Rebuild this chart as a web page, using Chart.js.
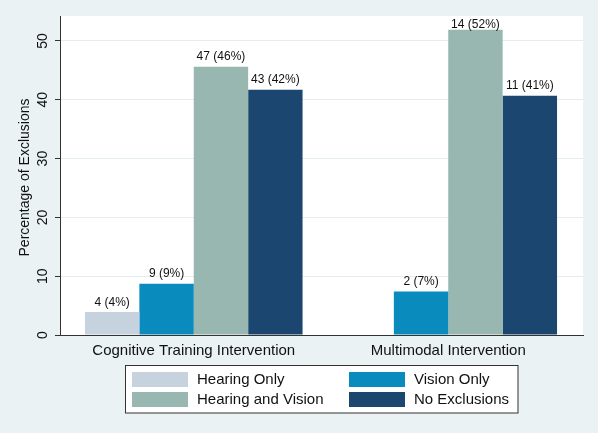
<!DOCTYPE html>
<html>
<head>
<meta charset="utf-8">
<script src="https://cdn.jsdelivr.net/npm/chart.js@4/dist/chart.umd.min.js"></script>
<style>
  html, body { margin: 0; padding: 0; background: #ffffff; }
  canvas { display: block; }
</style>
</head>
<body>
<canvas id="c" width="600" height="435"></canvas>
<script>
const categories = ['Cognitive Training Intervention', 'Multimodal Intervention'];
const seriesNames = ['Hearing Only', 'Vision Only', 'Hearing and Vision', 'No Exclusions'];
const hearingOnlyPct = [3.9, null];
const visionOnlyPct = [8.7, 7.4];
const hearingVisionPct = [45.6, 51.9];
const noExclusionsPct = [41.7, 40.7];
const hearingOnlyN = [4, null];
const visionOnlyN = [9, 2];
const hearingVisionN = [47, 14];
const noExclusionsN = [43, 11];
const yTicks = [0, 10, 20, 30, 40, 50];
const yTitle = 'Percentage of Exclusions';

const colors = ['#C6D3DF', '#0A8BBD', '#98B7B0', '#1B4670'];
const pctSeries = [hearingOnlyPct, visionOnlyPct, hearingVisionPct, noExclusionsPct];
const nSeries = [hearingOnlyN, visionOnlyN, hearingVisionN, noExclusionsN];

const FONT = '"Liberation Sans", Arial, Helvetica, sans-serif';

const datasets = seriesNames.map((name, s) => ({
  label: name,
  data: categories.map((c, i) => ({ x: i, y: pctSeries[s][i] })),
  counts: nSeries[s],
  backgroundColor: colors[s],
  borderWidth: 0,
  categoryPercentage: 0.855,
  barPercentage: 1.0
}));

const decorPlugin = {
  id: 'decor',
  beforeDraw(chart) {
    const ctx = chart.ctx;
    const a = chart.chartArea;
    ctx.save();
    ctx.fillStyle = '#EAF2F3';
    ctx.fillRect(0, 0, 598, 433);
    ctx.fillStyle = '#ffffff';
    ctx.fillRect(a.left, a.top, a.right - a.left, a.bottom - a.top);
    ctx.restore();
  },
  afterDraw(chart) {
    const ctx = chart.ctx;
    const a = chart.chartArea;
    const ys = chart.scales.y;
    const xs = chart.scales.x;
    ctx.save();
    ctx.fillStyle = '#111';
    // y tick labels (rotated)
    ctx.font = '14px ' + FONT;
    ctx.textAlign = 'center';
    ctx.textBaseline = 'middle';
    yTicks.forEach(v => {
      const py = ys.getPixelForValue(v);
      ctx.save();
      ctx.translate(43, py);
      ctx.rotate(-Math.PI / 2);
      ctx.fillText(String(v), 0, 0);
      ctx.restore();
    });
    // y title
    ctx.save();
    ctx.translate(25, (a.top + a.bottom) / 2 + 2);
    ctx.rotate(-Math.PI / 2);
    ctx.fillText(yTitle, 0, 0);
    ctx.restore();
    // x category labels
    ctx.font = '15px ' + FONT;
    categories.forEach((c, i) => {
      ctx.fillText(c, xs.getPixelForValue(i), 351);
    });
    // value labels
    ctx.font = '12px ' + FONT;
    ctx.textBaseline = 'alphabetic';
    chart.data.datasets.forEach((ds, s) => {
      const meta = chart.getDatasetMeta(s);
      meta.data.forEach((bar, i) => {
        const v = ds.data[i].y;
        if (v === null || v === undefined) return;
        const txt = ds.counts[i] + ' (' + Math.round(v) + '%)';
        const by = Math.max(bar.y - 6.5, a.top + 12);
        ctx.fillText(txt, bar.x, by);
      });
    });
    // legend
    ctx.fillStyle = '#ffffff';
    ctx.fillRect(125.5, 365.5, 392.5, 47.5);
    ctx.strokeStyle = '#333';
    ctx.lineWidth = 1;
    ctx.strokeRect(125.5, 365.5, 392.5, 47.5);
    const colX = [132, 349];
    const rowY = [372, 392];
    ctx.font = '15px ' + FONT;
    ctx.textAlign = 'left';
    ctx.textBaseline = 'middle';
    chart.data.datasets.forEach((ds, s) => {
      const cx = colX[s % 2];
      const ry = rowY[Math.floor(s / 2)];
      ctx.fillStyle = ds.backgroundColor;
      ctx.fillRect(cx, ry, 56, 15);
      ctx.fillStyle = '#111';
      ctx.fillText(ds.label, cx + 65, ry + 8);
    });
    ctx.restore();
  }
};

new Chart(document.getElementById('c'), {
  type: 'bar',
  data: { datasets },
  options: {
    responsive: false,
    animation: false,
    events: [],
    layout: { padding: { top: 16, right: 17, bottom: 0, left: 0 } },
    plugins: { legend: { display: false }, tooltip: { enabled: false } },
    scales: {
      x: {
        type: 'linear',
        offset: false,
        min: -0.5256,
        max: 1.5295,
        afterBuildTicks: (scale) => { scale.ticks = categories.map((c, i) => ({ value: i })); },
        afterFit: (scale) => { scale.height = 100; },
        ticks: { display: false },
        grid: { display: false, drawTicks: false },
        border: { display: true, color: '#333', width: 1 }
      },
      y: {
        type: 'linear',
        min: 0,
        max: 54.25,
        afterBuildTicks: (scale) => { scale.ticks = yTicks.map(v => ({ value: v })); },
        afterFit: (scale) => { scale.width = 60; },
        ticks: { display: false },
        grid: {
          color: (ctx) => (ctx.tick && ctx.tick.value === 0) ? 'rgba(0,0,0,0)' : '#E4EEF0',
          lineWidth: 1,
          drawTicks: true,
          tickLength: 5,
          tickColor: '#333'
        },
        border: { display: true, color: '#333', width: 1 }
      }
    }
  },
  plugins: [decorPlugin]
});
</script>
</body>
</html>
